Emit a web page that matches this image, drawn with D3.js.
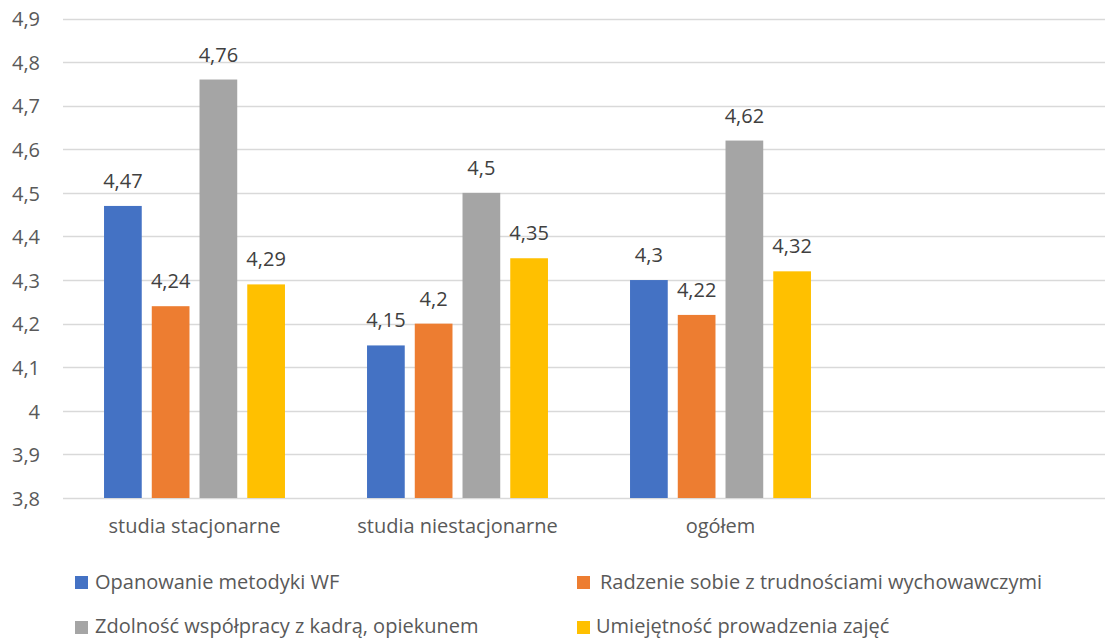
<!DOCTYPE html>
<html>
<head>
<meta charset="utf-8">
<script src="https://cdn.jsdelivr.net/npm/d3@7"></script>
<style>
  html, body { margin: 0; padding: 0; background: #fff; }
  svg { display: block; font-family: "Open Sans", "Noto Sans", sans-serif; }
</style>
</head>
<body>
<svg id="chart" width="1105" height="638"></svg>
<script>
const categories = ["studia stacjonarne", "studia niestacjonarne", "ogółem", ""];
const seriesNames = [
  "Opanowanie metodyki WF",
  "Radzenie sobie z trudnościami wychowawczymi",
  "Zdolność współpracy z kadrą, opiekunem",
  "Umiejętność prowadzenia zajęć"
];
const seriesColors = ["#4472C4", "#ED7D31", "#A5A5A5", "#FFC000"];
const opanowanie = [4.47, 4.15, 4.30];
const radzenie = [4.24, 4.20, 4.22];
const zdolnosc = [4.76, 4.50, 4.62];
const umiejetnosc = [4.29, 4.35, 4.32];
const yTicks = [3.8, 3.9, 4.0, 4.1, 4.2, 4.3, 4.4, 4.5, 4.6, 4.7, 4.8, 4.9];

const seriesValues = [opanowanie, radzenie, zdolnosc, umiejetnosc];
const fmt = v => String(+v.toFixed(2)).replace(".", ",");
const FS = 20;

const svg = d3.select("#chart");
const plot = { left: 63, right: 1115, top: 18.5, bottom: 498 };

const y = d3.scaleLinear().domain([3.8, 4.9]).range([plot.bottom, plot.top]);
const x0 = d3.scaleBand().domain(categories).range([plot.left, plot.right])
  .paddingInner(0.312).paddingOuter(0.156);
const x1 = d3.scaleBand().domain(d3.range(seriesNames.length)).range([0, x0.bandwidth()])
  .paddingInner(0.21).paddingOuter(0);

// gridlines
svg.append("g").selectAll("line").data(yTicks).join("line")
  .attr("x1", plot.left).attr("x2", plot.right)
  .attr("y1", d => Math.round(y(d)) + 0.5).attr("y2", d => Math.round(y(d)) + 0.5)
  .attr("stroke", "#D9D9D9").attr("stroke-width", 1.5);

// y axis labels
const yAxis = d3.axisLeft(y).tickValues(yTicks).tickSize(0).tickPadding(0).tickFormat(fmt);
const gy = svg.append("g").attr("transform", `translate(40,0)`).call(yAxis);
gy.select(".domain").remove();
gy.selectAll("text").attr("font-size", FS).attr("fill", "#595959").attr("dy", "0.36em")
  .attr("font-family", "'Open Sans', sans-serif");

// x axis labels
const xAxis = d3.axisBottom(x0).tickSize(0).tickPadding(0);
const gx = svg.append("g").attr("transform", `translate(0,${plot.bottom + 21})`).call(xAxis);
gx.select(".domain").remove();
gx.selectAll("text").attr("font-size", FS).attr("fill", "#595959")
  .attr("font-family", "'Open Sans', sans-serif");

// bars
const data = [];
categories.forEach((c, ci) => {
  seriesValues.forEach((vals, si) => {
    if (vals[ci] !== undefined) data.push({ cat: c, s: si, v: vals[ci] });
  });
});

const bars = svg.append("g");
bars.selectAll("rect").data(data).join("rect")
  .attr("x", d => x0(d.cat) + x1(d.s))
  .attr("width", x1.bandwidth())
  .attr("y", d => y(d.v))
  .attr("height", d => y(3.8) - y(d.v))
  .attr("fill", d => seriesColors[d.s]);

bars.selectAll("text").data(data).join("text")
  .attr("x", d => x0(d.cat) + x1(d.s) + x1.bandwidth() / 2)
  .attr("y", d => y(d.v) - 18)
  .attr("text-anchor", "middle")
  .attr("font-size", FS)
  .attr("fill", "#404040")
  .text(d => fmt(d.v));

// legend
const legendPos = [
  { x: 75, y: 576 },
  { x: 577, y: 576 },
  { x: 75, y: 621 },
  { x: 577, y: 621 }
];
const legendTextX = [95, 600, 95, 596];
const legendBase = [589, 589, 633, 633];
const lg = svg.append("g");
seriesNames.forEach((name, i) => {
  lg.append("rect").attr("x", legendPos[i].x).attr("y", legendPos[i].y)
    .attr("width", 13).attr("height", 13).attr("fill", seriesColors[i]);
  lg.append("text").attr("x", legendTextX[i]).attr("y", legendBase[i])
    .attr("font-size", FS).attr("fill", "#595959").text(name);
});
</script>
</body>
</html>
